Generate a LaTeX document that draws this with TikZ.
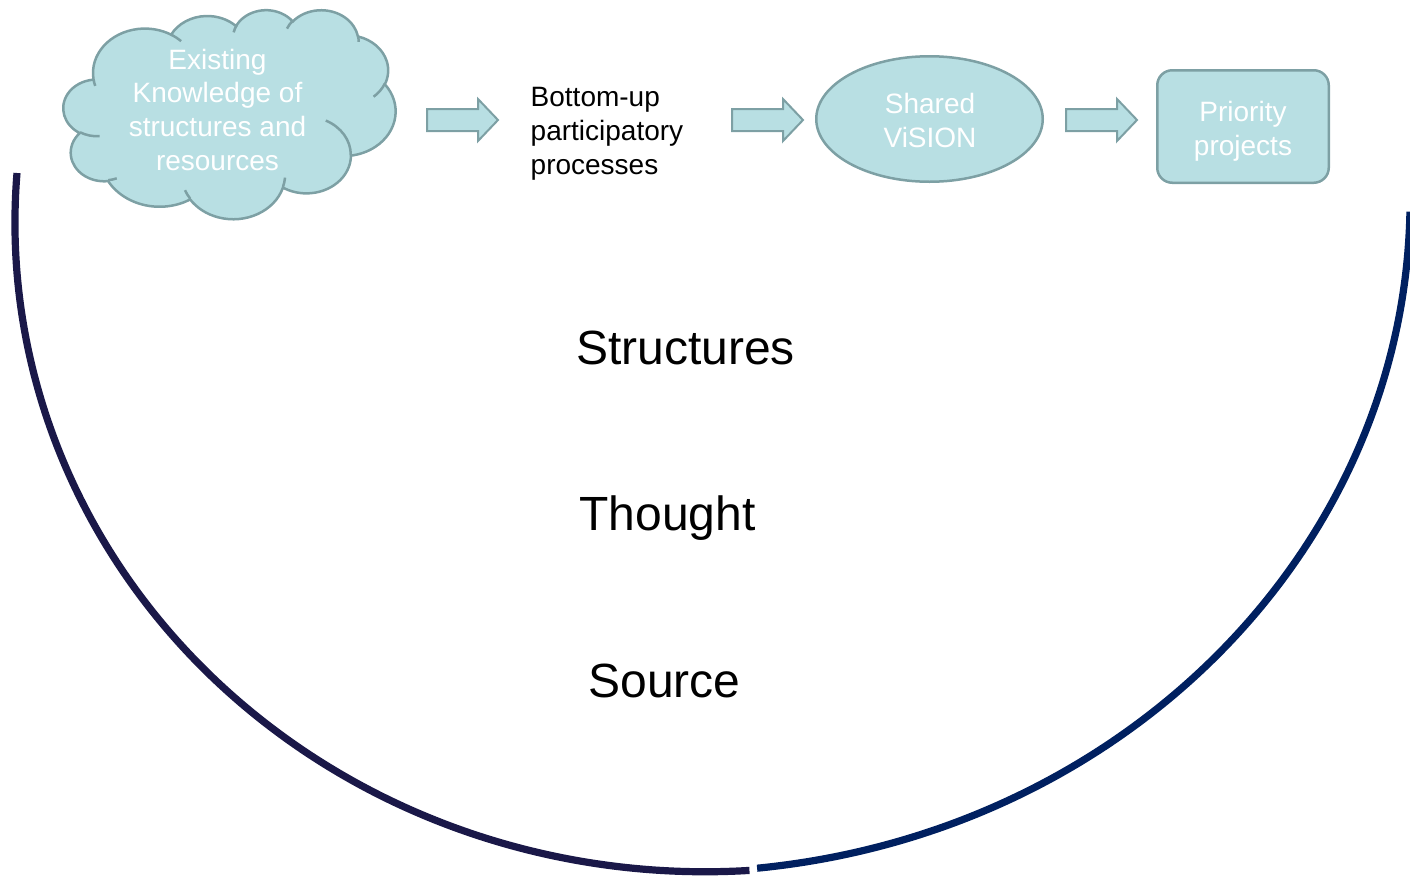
\documentclass[tikz,border=0pt]{standalone}
\usepackage{fontspec}
\setmainfont{Liberation Sans}
\usetikzlibrary{shapes.geometric}
\definecolor{tealfill}{RGB}{184,223,227}
\definecolor{tealline}{RGB}{125,160,164}
\definecolor{arcleft}{RGB}{26,24,72}
\definecolor{arcright}{RGB}{0,32,96}
\newcommand\smallfnt{\fontsize{28}{33.6}\selectfont}
\newcommand\bigfnt{\fontsize{48}{57}\selectfont}
% parametric angles of an OOXML arcTo (visual angles -> parametric)
\newcommand\cldang[5]{%
  \pgfmathsetmacro\cldta{atan2((#2)*sin(#4),(#3)*cos(#4))}%
  \pgfmathsetmacro\cldta{\cldta+360*round(((#4)-\cldta)/360)}%
  \pgfmathsetmacro\cldtb{atan2((#2)*sin((#4)+(#5)),(#3)*cos((#4)+(#5)))}%
  \pgfmathsetmacro\cldtb{\cldtb+360*round(((#4)+(#5)-\cldtb)/360)}%
  \expandafter\global\expandafter\let\csname cld#1s\endcsname\cldta
  \expandafter\global\expandafter\let\csname cld#1e\endcsname\cldtb}
\def\cldsx{0.76852}
\def\cldsy{0.48380}
\newcommand\cldarc[3]{arc[start angle={-(\csname cld#1s\endcsname)}, end angle={-(\csname cld#1e\endcsname)}, x radius={#2*\cldsx pt}, y radius={#3*\cldsy pt}]}
\cldang{A}{67.53}{91.90}{-190.4875}{123.7805}
\cldang{B}{53.33}{72.67}{-144.1024}{89.9452}
\cldang{C}{43.65}{59.45}{-145.8079}{99.7230}
\cldang{D}{48.57}{65.95}{-130.9861}{117.2417}
\cldang{E}{53.33}{72.73}{-78.7089}{109.0269}
\cldang{F}{67.75}{92.20}{-46.2673}{130.2690}
\cldang{G}{57.85}{78.67}{0.6250}{114.0333}
\cldang{H}{67.52}{92.15}{22.4516}{115.1726}
\cldang{I}{77.20}{105.43}{66.2426}{75.7110}
\cldang{J}{43.60}{59.18}{-274.9421}{146.7356}
\cldang{K}{43.45}{59.45}{-246.8285}{152.5189}
\cldang{xa}{43.45}{59.45}{86.7420}{26.4295}
\cldang{xb}{43.60}{59.18}{73.6105}{11.4475}
\cldang{xc}{67.52}{92.15}{137.6242}{14.0811}
\cldang{xd}{67.52}{92.15}{6.4533}{15.9984}
\cldang{xe}{57.85}{78.67}{-70.2924}{70.9174}
\cldang{xf}{53.33}{72.73}{30.3180}{27.7515}
\cldang{xg}{48.57}{65.95}{-13.7443}{14.8589}
\cldang{xh}{48.57}{65.95}{-149.1815}{18.1954}
\cldang{xi}{43.65}{59.45}{-163.4943}{17.6864}
\cldang{xj}{67.53}{91.90}{-66.7070}{12.3194}
\cldang{xk}{67.53}{91.90}{157.6544}{11.8582}
\begin{document}
\begin{tikzpicture}[x=1pt,y=-1pt,
  shapesty/.style={fill=tealfill, draw=tealline, line width=2.5pt},
  cloudline/.style={draw=tealline, line width=2.5pt},
  blockarr/.style={fill=tealfill, draw=tealline, line width=2pt, line join=miter},
  whitetxt/.style={text=white, font=\smallfnt, align=center, inner sep=0pt},
  blacktxt/.style={text=black, font=\smallfnt, align=left, inner sep=0pt},
  bigtxt/.style={text=black, font=\bigfnt, inner sep=0pt},
  arcL/.style={draw=arcleft, line width=7.2pt},
  arcR/.style={draw=arcright, line width=7.2pt}]
\useasboundingbox (0,0) rectangle (1410,876);
\clip (0,0) rectangle (1410,876);

% large open arcs
\draw[arcL] (17,173) arc[start angle=175.6, end angle=273.7, x radius=690pt, y radius=649pt];
\draw[arcR] (757.1,868.2) arc[start angle=276.06, end angle=359, x radius=730pt, y radius=672pt];

% cloud
\coordinate (cloud) at (229.5,114);
\begin{scope}[shift={(63.5,9.5)}, x={(0.76852pt,0pt)}, y={(0pt,-0.4838pt)}]
\filldraw[shapesty] (39.00,143.70) \cldarc{A}{67.53}{91.90} \cldarc{B}{53.33}{72.67}
  \cldarc{C}{43.65}{59.45} \cldarc{D}{48.57}{65.95} \cldarc{E}{53.33}{72.73}
  \cldarc{F}{67.75}{92.20} \cldarc{G}{57.85}{78.67} \cldarc{H}{67.52}{92.15}
  \cldarc{I}{77.20}{105.43} \cldarc{J}{43.60}{59.18} \cldarc{K}{43.45}{59.45} -- cycle;
\draw[cloudline] (46.93,261.77) \cldarc{xa}{43.45}{59.45}
  (69.28,348.99) \cldarc{xb}{43.60}{59.18}
  (164.78,390.90) \cldarc{xc}{67.52}{92.15}
  (288.27,347.51) \cldarc{xd}{67.52}{92.15}
  (341.29,229.54) \cldarc{xe}{57.85}{78.67}
  (417.98,153.54) \cldarc{xf}{53.33}{72.73}
  (383.24,54.26) \cldarc{xg}{48.57}{65.95}
  (290.78,39.52) \cldarc{xh}{48.57}{65.95}
  (221.41,47.20) \cldarc{xi}{43.65}{59.45}
  (140.00,51.92) \cldarc{xj}{67.53}{91.90}
  (41.27,157.89) \cldarc{xk}{67.53}{91.90};
\end{scope}
\node[whitetxt, anchor=north] (cloudtxt) at (217.5,48.8) {Existing\\Knowledge of\\structures and\\resources};

% process text
\node[blacktxt, anchor=north west] (bottomup) at (530.5,87.5) {Bottom-up\\participatory\\processes};

% shared vision ellipse
\node[shapesty, ellipse, minimum width=226.5, minimum height=125.5, inner sep=0pt] (vision) at (929.5,119) {};
\node[whitetxt, anchor=north] (visiontxt) at (930,93) {Shared\\ViSION};

% priority projects box
\node[shapesty, rectangle, rounded corners=15pt, minimum width=171.5, minimum height=112.5, inner sep=0pt] (priority) at (1243,126.5) {};
\node[whitetxt, anchor=north] (prioritytxt) at (1243,101.2) {Priority\\projects};

% block arrows
\coordinate (arA) at (427,120);
\coordinate (arB) at (732,120);
\coordinate (arC) at (1066,120);
\foreach \c in {arA,arB,arC}
  \draw[blockarr] (\c) ++(0,-11) -- ++(51,0) -- ++(0,-10) -- ++(20,21) -- ++(-20,21) -- ++(0,-10) -- ++(-51,0) -- cycle;

% layer labels
\node[bigtxt, anchor=base] (structures) at (685.5,364) {Structures};
\node[bigtxt, anchor=base] (thought) at (667.5,530) {Thought};
\node[bigtxt, anchor=base] (source) at (664.5,697.3) {Source};
\end{tikzpicture}
\end{document}
